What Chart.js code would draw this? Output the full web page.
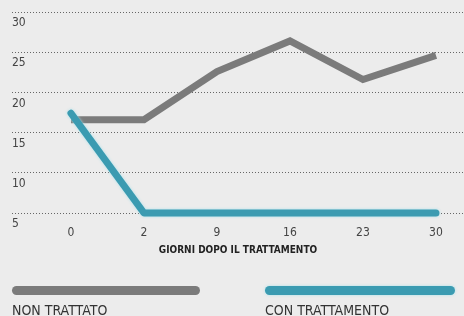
<!DOCTYPE html>
<html><head><meta charset="utf-8">
<script src="https://cdn.jsdelivr.net/npm/chart.js@4"></script>
<style>html,body{margin:0;padding:0;background:#ececec;}#wrap{width:464px;height:316px;}</style>
</head><body><div id="wrap"><canvas id="c" width="464" height="316"></canvas></div>
<script>
const days = ['0', '2', '9', '16', '23', '30'];
const nonTrattato = [16.6, 16.6, 22.6, 26.4, 21.6, 24.6];
const conTrattamento = [17.4, 5, 5, 5, 5, 5];
const yTicks = [5, 10, 15, 20, 25, 30];
const seriesNames = ['NON TRATTATO', 'CON TRATTAMENTO'];
const axisTitle = 'GIORNI DOPO IL TRATTAMENTO';

const FONT = "'Liberation Sans Narrow', 'DejaVu Sans Condensed', 'Roboto Condensed', sans-serif";
const GRAY = '#7b7b7b', TEAL = '#3b9bb1', HALO = 'rgba(165,225,236,0.95)';

const toPts = arr => arr.map((v, i) => ({x: i, y: v}));

const haloPlugin = {
  id: 'halo',
  beforeDatasetDraw(chart, args) {
    const ctx = chart.ctx;
    ctx.save();
    if (args.index === 1) { ctx.shadowColor = HALO; ctx.shadowBlur = 3; }
  },
  afterDatasetDraw(chart) { chart.ctx.restore(); }
};

const legendPlugin = {
  id: 'barLegend',
  afterDraw(chart) {
    const ctx = chart.ctx;
    const slots = [{x1: 12, x2: 200}, {x1: 265, x2: 455}];
    chart.data.datasets.forEach((ds, i) => {
      const s = slots[i];
      ctx.save();
      if (i === 1) { ctx.shadowColor = HALO; ctx.shadowBlur = 3; }
      ctx.strokeStyle = ds.borderColor;
      ctx.lineWidth = 9;
      ctx.lineCap = 'round';
      ctx.beginPath();
      ctx.moveTo(s.x1 + 4.5, 290.5);
      ctx.lineTo(s.x2 - 4.5, 290.5);
      ctx.stroke();
      ctx.restore();
      ctx.save();
      ctx.fillStyle = '#333';
      ctx.font = '14px ' + FONT;
      ctx.textAlign = 'left';
      ctx.textBaseline = 'middle';
      ctx.fillText(ds.label, s.x1, 311);
      ctx.restore();
    });
  }
};

new Chart(document.getElementById('c'), {
  type: 'line',
  data: {
    datasets: [
      {label: seriesNames[0], data: toPts(nonTrattato), borderColor: GRAY, borderWidth: 7,
       borderCapStyle: 'butt', borderJoinStyle: 'miter', pointRadius: 0, tension: 0, order: 1, clip: false},
      {label: seriesNames[1], data: toPts(conTrattamento), borderColor: TEAL, borderWidth: 7,
       borderCapStyle: 'round', borderJoinStyle: 'round', pointRadius: 0, tension: 0, order: 0, clip: false}
    ]
  },
  options: {
    responsive: false,
    animation: false,
    events: [],
    layout: {padding: {left: 12, right: 0, top: 12, bottom: 53}},
    plugins: {legend: {display: false}, tooltip: {enabled: false}},
    scales: {
      x: {
        type: 'linear',
        min: -0.808, max: 5.384,
        afterBuildTicks: s => { s.ticks = days.map((d, i) => ({value: i})); },
        afterFit: s => { s.height = 50; },
        grid: {display: false},
        border: {display: false},
        ticks: {
          callback: v => days[Math.round(v)],
          font: {family: FONT, size: 12}, color: '#444', padding: 5, maxRotation: 0
        },
        title: {display: true, text: axisTitle, color: '#222',
          font: {family: FONT, size: 10, weight: 'bold'}, padding: {top: 0, bottom: 7}}
      },
      y: {
        min: 5, max: 30,
        afterBuildTicks: s => { s.ticks = yTicks.map(v => ({value: v})); },
        afterFit: s => { s.width = 0; },
        grid: {color: '#666', lineWidth: 1, drawTicks: false},
        border: {display: false, dash: [1, 2]},
        ticks: {mirror: true, labelOffset: 11, padding: 0,
          font: {family: FONT, size: 12}, color: '#444'}
      }
    }
  },
  plugins: [haloPlugin, legendPlugin]
});
</script></body></html>
